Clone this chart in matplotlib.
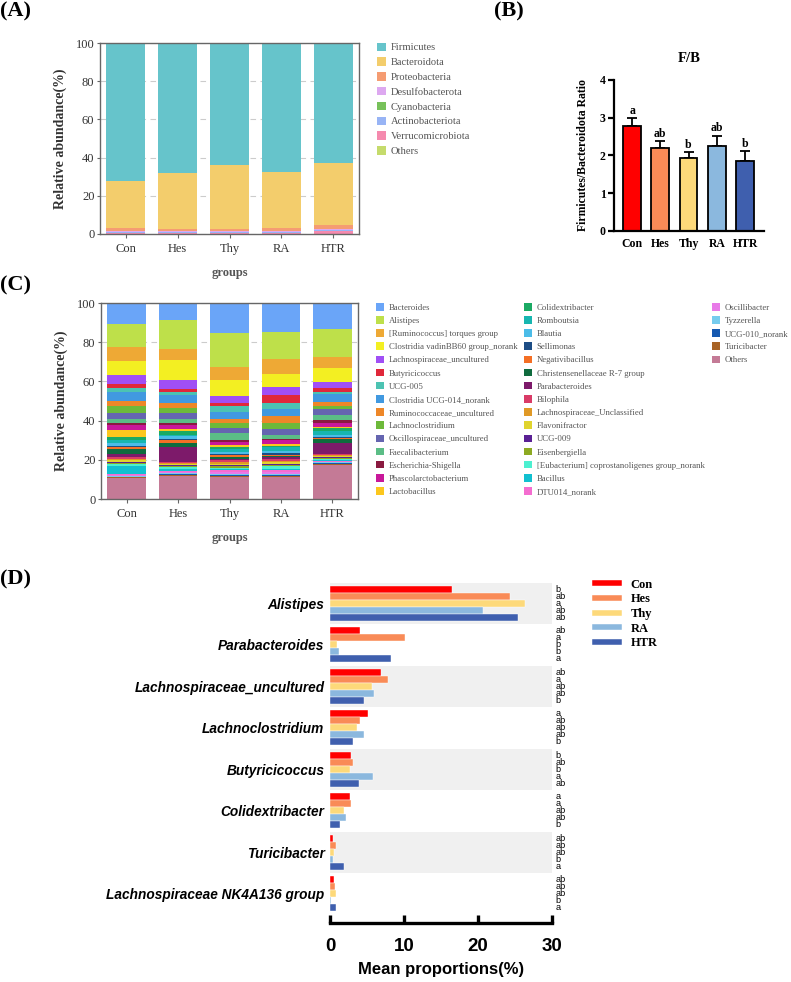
import matplotlib
matplotlib.use('Agg')
import matplotlib.pyplot as plt
import numpy as np
from matplotlib.patches import Patch
from matplotlib.lines import Line2D

W, H = 791, 982
fig = plt.figure(figsize=(W / 100, H / 100), dpi=100)
SERIF = 'Liberation Serif'
SANS = 'Liberation Sans'


def ax_px(l, t, r, b):
    return fig.add_axes([l / W, 1 - b / H, (r - l) / W, (b - t) / H])


groups = ['Con', 'Hes', 'Thy', 'RA', 'HTR']
group_colors = ['#FF0000', '#F98B57', '#FDD97A', '#8BB8DE', '#3F5FAE']

# ---------------- Panel A data (phylum level) ----------------
phyla = ['Firmicutes', 'Bacteroidota', 'Proteobacteria', 'Desulfobacterota',
         'Cyanobacteria', 'Actinobacteriota', 'Verrucomicrobiota', 'Others']
phylum_colors = ['#66C4CB', '#F3CD6C', '#F59C72', '#DDA8F0', '#77C15A',
                 '#98B4F5', '#F58AAE', '#C5DB6C']
firmicutes = [72.2, 68.2, 63.8, 67.5, 63.0]
bacteroidota = [24.5, 29.2, 33.6, 29.2, 32.1]
proteobacteria = [1.5, 1.0, 1.0, 1.9, 2.2]
desulfobacterota = [0.6, 0.4, 0.4, 0.3, 0.7]
cyanobacteria = [0.1, 0.1, 0.1, 0.1, 0.1]
actinobacteriota = [0.5, 0.5, 0.5, 0.5, 0.4]
verrucomicrobiota = [0.4, 0.4, 0.4, 0.3, 1.3]
others_phylum = [0.2, 0.2, 0.2, 0.2, 0.2]
phylum_values = [firmicutes, bacteroidota, proteobacteria, desulfobacterota,
                 cyanobacteria, actinobacteriota, verrucomicrobiota, others_phylum]

# ---------------- Panel B data ----------------
fb_ratio = [2.79, 2.20, 1.94, 2.24, 1.86]
fb_err = [0.20, 0.17, 0.14, 0.28, 0.25]
fb_letters = ['a', 'ab', 'b', 'ab', 'b']

# ---------------- Panel C data (genus level) ----------------
genera = ['Bacteroides', 'Alistipes', '[Ruminococcus] torques group',
          'Clostridia vadinBB60 group_norank', 'Lachnospiraceae_uncultured',
          'Butyricicoccus', 'UCG-005', 'Clostridia UCG-014_norank',
          'Ruminococcaceae_uncultured', 'Lachnoclostridium',
          'Oscillospiraceae_uncultured', 'Faecalibacterium', 'Escherichia-Shigella',
          'Phascolarctobacterium', 'Lactobacillus', 'Colidextribacter', 'Romboutsia',
          'Blautia', 'Sellimonas', 'Negativibacillus', 'Christensenellaceae R-7 group',
          'Parabacteroides', 'Bilophila', 'Lachnospiraceae_Unclassified',
          'Flavonifractor', 'UCG-009', 'Eisenbergiella',
          '[Eubacterium] coprostanoligenes group_norank', 'Bacillus', 'DTU014_norank',
          'Oscillibacter', 'Tyzzerella', 'UCG-010_norank', 'Turicibacter', 'Others']
genus_colors = ['#6AA5F8', '#BEE04A', '#EEA935', '#F3EF22', '#A04FF5', '#E0283A',
                '#4CC3B2', '#4199E0', '#EE8728', '#6DB93A', '#6565B0', '#5BBD86',
                '#8A1A40', '#C8189A', '#FCC71D', '#1BAA64', '#17B6B0', '#4BBCE8',
                '#1D4D85', '#F46F25', '#0F6B3E', '#7D1A6A', '#D93B67', '#E09926',
                '#E0D42E', '#5A2094', '#8DAA22', '#4CF0D0', '#11C0D0', '#F46DD0',
                '#E87AE8', '#76CCEE', '#1559B0', '#A86325', '#C47A96']
con_genus = [10.9, 11.6, 7.0, 7.2, 4.6, 2.0, 1.9, 4.8, 2.4, 3.6, 3.2, 1.9, 1.0, 2.9,
             3.4, 1.7, 1.4, 1.5, 0.7, 0.9, 2.2, 1.7, 1.0, 0.7, 0.7, 0.5, 0.9, 1.0,
             3.7, 0.7, 0.5, 0.4, 0.3, 0.3, 10.8]
hes_genus = [8.7, 14.7, 5.6, 10.2, 4.7, 1.7, 1.3, 4.3, 2.4, 2.5, 2.9, 2.4, 0.9, 1.9,
             1.2, 1.7, 1.0, 1.2, 0.8, 1.2, 2.1, 7.5, 0.7, 0.7, 0.5, 0.5, 0.5, 0.8,
             0.9, 0.8, 0.6, 0.5, 0.3, 0.5, 11.8]
thy_genus = [15.4, 17.2, 6.6, 8.1, 3.9, 1.5, 2.8, 3.7, 2.1, 2.4, 2.7, 3.6, 0.8, 1.4,
             1.3, 0.9, 1.4, 1.0, 0.8, 0.9, 1.0, 0.7, 1.0, 0.9, 0.5, 0.5, 0.9, 0.8,
             0.5, 1.0, 0.7, 0.9, 0.5, 0.3, 11.3]
ra_genus = [14.7, 14.0, 7.3, 7.0, 3.9, 4.0, 3.4, 3.5, 3.5, 3.2, 2.6, 2.4, 0.6, 1.6,
            1.2, 0.8, 1.6, 1.2, 0.8, 0.9, 0.6, 0.9, 0.8, 0.7, 0.9, 0.5, 0.8, 1.1,
            0.8, 1.0, 0.7, 0.7, 0.7, 0.5, 11.1]
htr_genus = [13.1, 14.7, 5.6, 6.7, 3.1, 2.0, 1.4, 3.9, 2.2, 1.6, 2.7, 2.6, 1.8, 1.9,
             0.7, 1.2, 1.9, 1.2, 0.5, 0.5, 1.9, 5.6, 0.8, 0.6, 0.6, 0.4, 0.5, 0.5,
             0.3, 0.4, 0.3, 0.4, 0.3, 0.7, 17.4]
genus_table = np.array([con_genus, hes_genus, thy_genus, ra_genus, htr_genus]).T

# ---------------- Panel D data ----------------
genera_d = ['Alistipes', 'Parabacteroides', 'Lachnospiraceae_uncultured',
            'Lachnoclostridium', 'Butyricicoccus', 'Colidextribacter', 'Turicibacter',
            'Lachnospiraceae NK4A136 group']
d_con = [16.5, 4.0, 6.9, 5.2, 2.8, 2.7, 0.45, 0.5]
d_hes = [24.3, 10.1, 7.8, 4.1, 3.1, 2.8, 0.8, 0.65]
d_thy = [26.3, 0.9, 5.7, 3.6, 2.7, 1.9, 0.5, 0.75]
d_ra = [20.7, 1.2, 5.9, 4.6, 5.8, 2.2, 0.45, 0.2]
d_htr = [25.4, 8.3, 4.6, 3.1, 3.9, 1.3, 1.9, 0.85]
d_letters = [['b', 'ab', 'a', 'ab', 'ab'],
             ['ab', 'a', 'b', 'b', 'a'],
             ['ab', 'a', 'ab', 'ab', 'b'],
             ['a', 'ab', 'ab', 'ab', 'b'],
             ['b', 'ab', 'b', 'a', 'ab'],
             ['a', 'a', 'ab', 'ab', 'b'],
             ['ab', 'ab', 'ab', 'b', 'a'],
             ['ab', 'ab', 'ab', 'b', 'a']]

GRAY_TXT = '#333333'
LEG_TXT = '#555555'


def style_stack_axes(ax):
    for s in ax.spines.values():
        s.set_color('#666666')
        s.set_linewidth(1.0)
    ax.set_ylim(0, 100)
    ax.set_xlim(-0.5, 4.5)
    ax.set_yticks([0, 20, 40, 60, 80, 100])
    ax.set_xticks(range(5))
    ax.set_xticklabels(groups)
    ax.tick_params(axis='both', colors='#666666', labelcolor=GRAY_TXT,
                   labelsize=9, length=3, width=0.8)
    ax.tick_params(axis='y', length=2, pad=2)
    for lab in ax.get_xticklabels() + ax.get_yticklabels():
        lab.set_fontfamily(SERIF)
    ax.yaxis.grid(True, ls=(0, (5, 4)), color='#CCCCCC', lw=0.8)
    ax.set_axisbelow(True)
    ax.set_ylabel('Relative abundance(%)', fontfamily=SERIF, fontweight='bold',
                  fontsize=10, color=GRAY_TXT, labelpad=6)
    ax.set_xlabel('groups', fontfamily=SERIF, fontweight='bold', fontsize=9,
                  color='#555555')


# ================= Panel A =================
axA = ax_px(100, 43, 359, 234)
x = np.arange(5)
bottom = np.zeros(5)
handlesA = []
for name, col, vals in reversed(list(zip(phyla, phylum_colors, phylum_values))):
    axA.bar(x, vals, bottom=bottom, width=0.75, color=col, edgecolor='none')
    bottom += np.array(vals)
for name, col in zip(phyla, phylum_colors):
    handlesA.append(Patch(facecolor=col, edgecolor='none', label=name))
style_stack_axes(axA)
axA.xaxis.set_label_coords(0.5, -0.175)
fig.legend(handles=handlesA, loc='upper left', bbox_to_anchor=(377 / W, 1 - 42.5 / H),
           frameon=False, prop={'family': SERIF, 'size': 7.6}, labelcolor=LEG_TXT,
           handlelength=0.85, handleheight=0.85, handletextpad=0.45,
           labelspacing=0.47, borderpad=0, borderaxespad=0)

# ================= Panel B =================
axB = ax_px(614, 80, 764, 230.7)
axB.bar(x, fb_ratio, width=0.63, color=group_colors, edgecolor='black', linewidth=1.3,
        zorder=2)
axB.errorbar(x, fb_ratio, yerr=[np.zeros(5), fb_err], fmt='none', ecolor='black',
             elinewidth=1.3, capsize=3.5, capthick=1.3, zorder=1)
for xi, v, e, l in zip(x, fb_ratio, fb_err, fb_letters):
    axB.text(xi, v + e + 0.04, l, ha='center', va='bottom', fontfamily=SERIF,
             fontweight='bold', fontsize=8.5)
axB.set_xlim(-0.64, 4.67)
axB.set_ylim(0, 4)
axB.set_yticks([0, 1, 2, 3, 4])
axB.set_xticks(x)
axB.set_xticklabels(groups)
for s in ['top', 'right']:
    axB.spines[s].set_visible(False)
for s in ['left', 'bottom']:
    axB.spines[s].set_linewidth(1.6)
axB.tick_params(axis='both', width=1.6, length=4, labelsize=8.5, pad=2)
axB.tick_params(axis='x', length=0, pad=5)
for lab in axB.get_xticklabels() + axB.get_yticklabels():
    lab.set_fontfamily(SERIF)
    lab.set_fontweight('bold')
axB.set_ylabel('Firmicutes/Bacteroidota Ratio', fontfamily=SERIF, fontweight='bold',
               fontsize=8.5, labelpad=8)
axB.set_title('F/B', fontfamily=SERIF, fontweight='bold', fontsize=10.5, pad=13)

# ================= Panel C =================
axC = ax_px(101, 303, 358, 499)
bottom = np.zeros(5)
for i in range(len(genera) - 1, -1, -1):
    axC.bar(x, genus_table[i], bottom=bottom, width=0.75, color=genus_colors[i],
            edgecolor='none')
    bottom += genus_table[i]
style_stack_axes(axC)
axC.xaxis.set_label_coords(0.5, -0.17)

col_starts = [0, 15, 30]
col_x = [376, 524, 712]
for c in range(3):
    idx = range(col_starts[c], min(col_starts[c] + 15, len(genera)))
    hs = [Patch(facecolor=genus_colors[i], edgecolor='none', label=genera[i]) for i in idx]
    leg = fig.legend(handles=hs, loc='upper left',
                     bbox_to_anchor=(col_x[c] / W, 1 - 303 / H), frameon=False,
                     prop={'family': SERIF, 'size': 6.3}, labelcolor=LEG_TXT,
                     handlelength=0.95, handleheight=0.95, handletextpad=0.5,
                     labelspacing=0.5, borderpad=0, borderaxespad=0)

# ================= Panel D =================
axD = ax_px(330, 582.7, 552, 923)
n = len(genera_d)
yrow = np.arange(n)
bh = 0.169
d_vals = [d_con, d_hes, d_thy, d_ra, d_htr]
for r in range(0, n, 2):
    axD.axhspan(r - 0.5, r + 0.5, xmin=0, xmax=1, color='#F0F0F0', zorder=0, lw=0)
for k, (vals, col) in enumerate(zip(d_vals, group_colors)):
    ypos = yrow + (k - 2) * bh
    axD.barh(ypos, vals, height=bh, color=col, edgecolor='white', linewidth=0.3,
             zorder=2, label=groups[k])
    for r in range(n):
        axD.text(30.5, ypos[r], d_letters[r][k], ha='left', va='center',
                 fontfamily=SANS, fontsize=6.6, clip_on=False)
axD.set_xlim(0, 30)
axD.set_ylim(7.7, -0.5)
axD.set_yticks(yrow)
axD.set_yticklabels(genera_d, fontfamily=SANS, fontweight='bold', style='italic',
                    fontsize=9.8)
axD.tick_params(axis='y', length=0, pad=4)
for s in ['top', 'right', 'left']:
    axD.spines[s].set_visible(False)
axD.spines['bottom'].set_linewidth(2.4)
axD.set_xticks([0, 10, 20, 30])
axD.tick_params(axis='x', direction='in', length=6, width=2.4, labelsize=13.5, pad=11)
for lab in axD.get_xticklabels():
    lab.set_fontfamily(SANS)
    lab.set_fontweight('bold')
axD.set_xlabel('Mean proportions(%)', fontfamily=SANS, fontweight='bold', fontsize=12,
               labelpad=5)

handlesD = [Line2D([0], [0], color=c, lw=4) for c in group_colors]
fig.legend(handles=handlesD, labels=groups, loc='upper left',
           bbox_to_anchor=(595 / W, 1 - 578.5 / H), frameon=False,
           prop={'family': SERIF, 'size': 9, 'weight': 'bold'},
           handlelength=1.9, handletextpad=0.95, labelspacing=0.22,
           borderpad=0, borderaxespad=0)

# panel letters
for lab, px, py in [('(A)', 0, 1), ('(B)', 494, 1), ('(C)', 0, 275), ('(D)', 0, 569)]:
    fig.text(px / W, 1 - py / H, lab, fontfamily=SERIF, fontweight='bold', fontsize=16,
             ha='left', va='top')

fig.savefig('out.png', dpi=100)
